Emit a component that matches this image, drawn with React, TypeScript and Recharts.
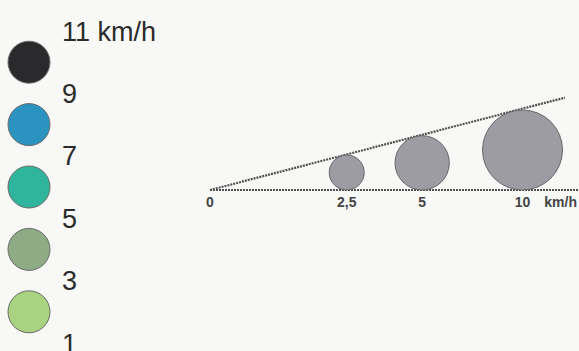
import { ScatterChart, Scatter, XAxis, YAxis, ZAxis, Cell, ReferenceLine } from 'recharts';

// legend: speed bands, one colour per band
const legendBreaks = [1, 3, 5, 7, 9, 11];
const legendMids = [10, 8, 6, 4, 2];
const legendColors = ['#2a2a2c', '#2a93c0', '#2fb59b', '#8fab86', '#a9d381'];

// size key: bubbles for these speeds
const speeds = [2.5, 5, 10];
const speedTickLabels = ['0', '2,5', '5', '10'];

const FONT = '"Liberation Sans", Arial, sans-serif';

// bubble area is linear in speed (ZAxis)
const minSpeed = 2.5;
const maxSpeed = 10;
const minArea = Math.PI * 17.5 * 17.5;
const maxArea = Math.PI * 40 * 40;
const halfAngleTan = 0.128; // wedge the bubbles sit in

const radiusFor = (v: number) =>
  Math.sqrt((minArea + ((v - minSpeed) / (maxSpeed - minSpeed)) * (maxArea - minArea)) / Math.PI);

const bubbles = speeds.map((v) => {
  const r = radiusFor(v);
  return { x: r / halfAngleTan, y: r, z: v };
});
const bubbleTicks = [0, ...bubbles.map((b) => b.x)];
const legendData = legendMids.map((v) => ({ x: 0.5, y: v }));

const wedgeSlope = (2 * halfAngleTan) / (1 - halfAngleTan * halfAngleTan);
const wedgeEnd = 355;

const LegendDot = (props: any) => (
  <circle cx={props.cx} cy={props.cy} r={21} fill={props.fill} stroke="#6a6a6a" strokeWidth={1} />
);

export default function App() {
  return (
    <div
      style={{
        position: 'fixed',
        left: 0,
        top: 0,
        width: 579,
        height: 351,
        background: '#f8f8f6',
        fontFamily: FONT,
      }}
    >
      <div style={{ position: 'absolute', left: 0, top: 0 }}>
        <ScatterChart width={180} height={351} margin={{ top: 31, right: 0, bottom: 8, left: 8 }}>
          <XAxis type="number" dataKey="x" domain={[0, 1]} hide />
          <YAxis
            type="number"
            dataKey="y"
            orientation="right"
            domain={[1, 11]}
            ticks={legendBreaks}
            interval={0}
            width={130}
            axisLine={false}
            tickLine={false}
            tickSize={0}
            tickMargin={12}
            tick={{ fill: '#2b2b2b', fontSize: 27, fontFamily: FONT }}
            tickFormatter={(v: number) => (v === 11 ? '11 km/h' : String(v))}
          />
          <Scatter data={legendData} isAnimationActive={false} shape={LegendDot}>
            {legendData.map((_, i) => (
              <Cell key={i} fill={legendColors[i]} />
            ))}
          </Scatter>
        </ScatterChart>
      </div>
      <div style={{ position: 'absolute', left: 200, top: 0 }}>
        <ScatterChart width={379} height={351} margin={{ top: 0, right: 0, bottom: 137, left: 10 }}>
          <XAxis
            type="number"
            dataKey="x"
            domain={[0, 369]}
            ticks={bubbleTicks}
            interval={0}
            height={24}
            axisLine={false}
            tickLine={false}
            tickSize={0}
            tickMargin={7}
            tick={{ fill: '#444', fontSize: 14, fontWeight: 'bold', fontFamily: FONT }}
            tickFormatter={(_v: number, i: number) => speedTickLabels[i]}
            label={{
              value: 'km/h',
              position: 'insideRight',
              offset: 2,
              fill: '#444',
              fontSize: 14,
              fontWeight: 'bold',
              fontFamily: FONT,
            }}
          />
          <YAxis type="number" dataKey="y" domain={[0, 190]} hide />
          <ZAxis type="number" dataKey="z" domain={[minSpeed, maxSpeed]} range={[minArea, maxArea]} />
          <Scatter
            data={bubbles}
            isAnimationActive={false}
            fill="#9d9ca3"
            stroke="#66666a"
            strokeWidth={1}
          />
          <ReferenceLine y={0} stroke="#505050" strokeWidth={2.2} strokeDasharray="2 1" />
          <ReferenceLine
            segment={[
              { x: 0, y: 0 },
              { x: wedgeEnd, y: wedgeEnd * wedgeSlope },
            ]}
            stroke="#505050"
            strokeWidth={2.2}
            strokeDasharray="2 1"
          />
        </ScatterChart>
      </div>
    </div>
  );
}
